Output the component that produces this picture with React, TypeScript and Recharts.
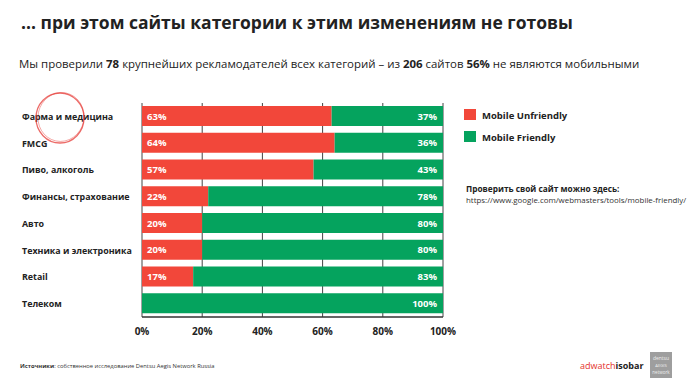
import React from "react";
import { BarChart, Bar, XAxis, YAxis, CartesianGrid, LabelList } from "recharts";

const categories = [
  "Фарма и медицина",
  "FMCG",
  "Пиво, алкоголь",
  "Финансы, страхование",
  "Авто",
  "Техника и электроника",
  "Retail",
  "Телеком",
];
const unfriendlyValues = [63, 64, 57, 22, 20, 20, 17, 0];
const friendlyValues = [37, 36, 43, 78, 80, 80, 83, 100];
const xTicks = [0, 20, 40, 60, 80, 100];
const seriesNames = ["Mobile Unfriendly", "Mobile Friendly"];

const data = categories.map((name, i) => ({
  name,
  unfriendly: unfriendlyValues[i],
  friendly: friendlyValues[i],
}));

const RED = "#F2473A";
const GREEN = "#05A35E";
const INK = "#222";
const FONT = "'Open Sans', 'DejaVu Sans', sans-serif";

const YTick = (props: any) => {
  const { y, payload } = props;
  return (
    <text x={22} y={y} dy={3.5} textAnchor="start" fontFamily={FONT} fontWeight={700} fontSize={8.9} fill={INK}>
      {payload.value}
    </text>
  );
};

const XTick = (props: any) => {
  const { x, y, payload } = props;
  return (
    <text x={x} y={y} dy={8} textAnchor="middle" fontFamily={FONT} fontWeight={700} fontSize={10} fill={INK}>
      {payload.value}%
    </text>
  );
};

const makeLabel = (side: "left" | "right") => (props: any) => {
  const { x, y, width, height, value } = props;
  if (!value) return null;
  const tx = side === "left" ? Number(x) + 5 : Number(x) + Number(width) - 6;
  return (
    <text
      x={tx}
      y={Number(y) + Number(height) / 2}
      dy={3.5}
      textAnchor={side === "left" ? "start" : "end"}
      fontFamily={FONT}
      fontWeight={700}
      fontSize={9.5}
      fill="#fff"
    >
      {value}%
    </text>
  );
};

export default function App() {
  return (
    <div style={{ position: "absolute", left: 0, top: 0, width: 700, height: 378, background: "#fff", overflow: "hidden" }}>
      <div style={{ position: "absolute", left: 0, top: 0 }}>
        <BarChart
          width={700}
          height={378}
          data={data}
          layout="vertical"
          margin={{ top: 103, right: 257, bottom: 31, left: 22 }}
        >
          <CartesianGrid vertical horizontal={false} stroke="#444" strokeWidth={1} />
          <XAxis
            type="number"
            domain={[0, 100]}
            ticks={xTicks}
            tick={<XTick />}
            tickLine={false}
            axisLine={{ stroke: "#333", strokeWidth: 1.5 }}
            tickMargin={4}
            height={30}
          />
          <YAxis
            type="category"
            dataKey="name"
            width={120}
            tick={<YTick />}
            tickLine={false}
            axisLine={false}
          />
          <Bar dataKey="unfriendly" name={seriesNames[0]} stackId="a" fill={RED} barSize={20} isAnimationActive={false}>
            <LabelList dataKey="unfriendly" content={makeLabel("left")} />
          </Bar>
          <Bar dataKey="friendly" name={seriesNames[1]} stackId="a" fill={GREEN} barSize={20} isAnimationActive={false}>
            <LabelList dataKey="friendly" content={makeLabel("right")} />
          </Bar>
        </BarChart>
      </div>
      <svg width={700} height={378} style={{ position: "absolute", left: 0, top: 0, pointerEvents: "none" }}>
        <text x={21} y={29} fontFamily={FONT} fontWeight={700} fontSize={17.5} fill={INK}>
          ... при этом сайты категории к этим изменениям не готовы
        </text>
        <text x={19} y={68} fontFamily={FONT} fontSize={11.45} fill={INK}>
          Мы проверили <tspan fontWeight={700}>78</tspan> крупнейших рекламодателей всех категорий – из{" "}
          <tspan fontWeight={700}>206</tspan> сайтов <tspan fontWeight={700}>56%</tspan> не являются мобильными
        </text>

        {/* hand-drawn circle */}
        <ellipse cx={60} cy={118} rx={24} ry={25} fill="none" stroke="#E53935" strokeWidth={1.3} opacity={0.75} />
        <ellipse cx={61} cy={117} rx={23} ry={24.5} fill="none" stroke="#E53935" strokeWidth={0.8} opacity={0.5} transform="rotate(12 61 117)" />

        {/* legend */}
        <rect x={464} y={109} width={12} height={11} fill={RED} />
        <text x={482} y={118.5} fontFamily={FONT} fontWeight={700} fontSize={9.5} fill={INK}>{seriesNames[0]}</text>
        <rect x={464} y={131} width={12} height={11} fill={GREEN} />
        <text x={482} y={141} fontFamily={FONT} fontWeight={700} fontSize={9.5} fill={INK}>{seriesNames[1]}</text>

        <text x={466} y={192} fontFamily={FONT} fontWeight={700} fontSize={8.3} fill={INK}>Проверить свой сайт можно здесь:</text>
        <text x={466} y={203} fontFamily={FONT} fontSize={7.9} fill="#333">https://www.google.com/webmasters/tools/mobile-friendly/</text>

        {/* footer */}
        <text x={20} y={368} fontFamily={FONT} fontSize={5.8} fill="#333">
          <tspan fontWeight={700}>Источники</tspan>: собственное исследование Dentsu Aegis Network Russia
        </text>
        <text x={580} y={369} fontFamily={FONT} fontSize={9} fill={INK}>
          <tspan fill="#E4322B">adwatch</tspan><tspan fontWeight={700}>isobar</tspan>
        </text>
        <rect x={650} y={352} width={22} height={26} fill="#9E9E9E" />
        <text x={661} y={360} textAnchor="middle" fontFamily={FONT} fontSize={5} fill="#eee">dentsu</text>
        <text x={661} y={367} textAnchor="middle" fontFamily={FONT} fontSize={4.2} fill="#eee">AEGIS</text>
        <text x={661} y={374} textAnchor="middle" fontFamily={FONT} fontSize={4.5} fill="#eee">network</text>
      </svg>
    </div>
  );
}
